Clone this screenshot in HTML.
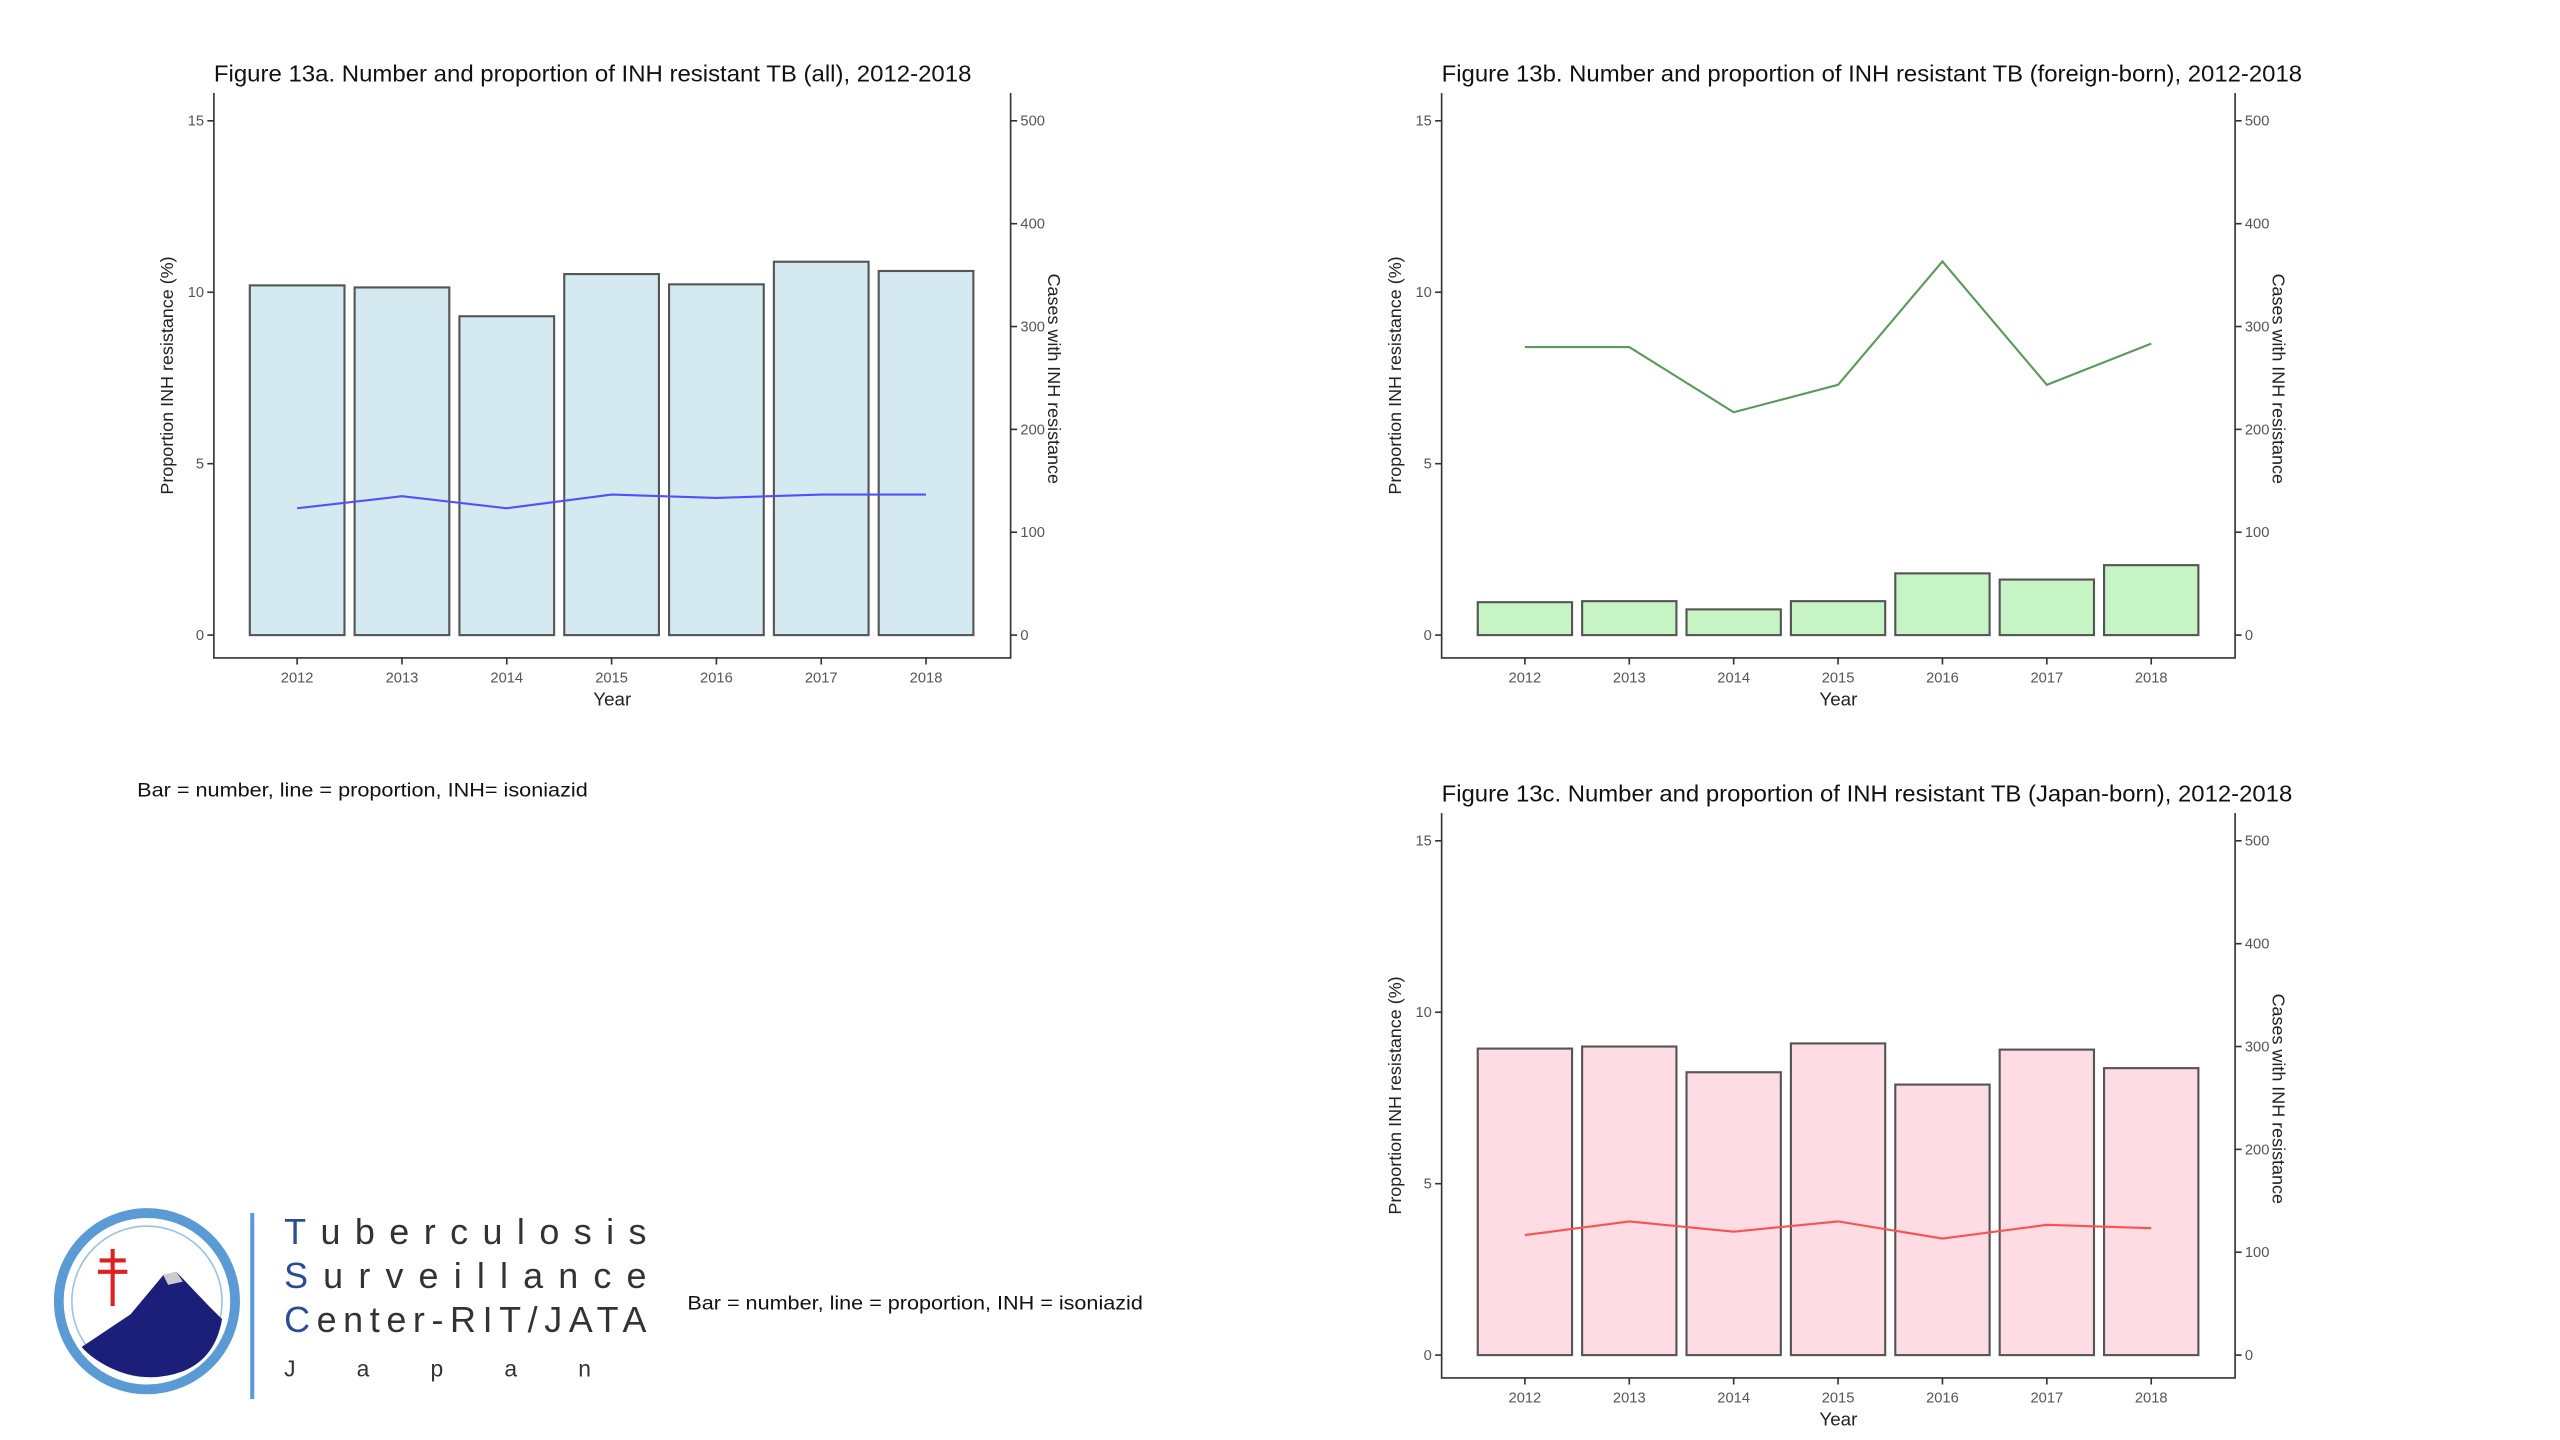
<!DOCTYPE html>
<html><head><meta charset="utf-8">
<style>
html,body{margin:0;padding:0;background:#fff;}
svg{display:block;}
text{font-family:"Liberation Sans",sans-serif;}
</style></head>
<body>
<svg id="root" width="2560" height="1440" viewBox="0 0 1568 882" xmlns="http://www.w3.org/2000/svg">
  <g id="chartA"></g>
  <g id="chartB"></g>
  <g id="chartC"></g>

  <text x="84" y="488" font-size="12" fill="#111" textLength="276" lengthAdjust="spacingAndGlyphs">Bar = number, line = proportion, INH= isoniazid</text>
  <text x="421" y="802" font-size="12" fill="#111" textLength="279" lengthAdjust="spacingAndGlyphs">Bar = number, line = proportion, INH = isoniazid</text>

  <g>
    <circle cx="90" cy="797" r="54" fill="#fff" stroke="#5a9bd5" stroke-width="6"/>
    <circle cx="90" cy="797" r="46" fill="#fff" stroke="#9cc3e6" stroke-width="1"/>
    <path d="M50 825 L80 805 L100 781 L108 779 L128 800 L136 808 Q132 832 112 840 Q90 848 68 838 Q56 832 50 825 Z" fill="#1c1f7a"/>
    <path d="M100 781 L108 779 L112 785 L103 787 Z" fill="#ccc"/>
    <g stroke="#e02020" stroke-width="2.5">
      <line x1="69" y1="765" x2="69" y2="800"/>
      <line x1="61" y1="772" x2="77" y2="772"/>
      <line x1="60" y1="779" x2="78" y2="779"/>
    </g>
    <line x1="154.5" y1="743" x2="154.5" y2="857" stroke="#5a9bd5" stroke-width="2.5"/>
    <text x="174" y="762" font-size="22" textLength="222" lengthAdjust="spacing" fill="#333"><tspan fill="#2a4a9a">T</tspan>uberculosis</text>
    <text x="174" y="789" font-size="22" textLength="222" lengthAdjust="spacing" fill="#333"><tspan fill="#2a4a9a">S</tspan>urveillance</text>
    <text x="174" y="816" font-size="22" textLength="222" lengthAdjust="spacing" fill="#333"><tspan fill="#2a4a9a">C</tspan>enter-RIT/JATA</text>
    <text x="174" y="843" font-size="14" textLength="188" lengthAdjust="spacing" fill="#333">Japan</text>
  </g>
</svg>
<script>
const years = ["2012","2013","2014","2015","2016","2017","2018"];
const leftTicks = [0,5,10,15];
const rightTicks = [0,100,200,300,400,500];
const casesAll = [340,338,310,351,341,363,354];
const propAll = [3.7,4.05,3.7,4.1,4.0,4.1,4.1];
const casesForeign = [32,33,25,33,60,54,68];
const propForeign = [8.4,8.4,6.5,7.3,10.9,7.3,8.5];
const casesJapan = [298,300,275,303,263,297,279];
const propJapan = [3.5,3.9,3.6,3.9,3.4,3.8,3.7];

const NS = "http://www.w3.org/2000/svg";
function mk(tag, attrs, parent){
  const e = document.createElementNS(NS, tag);
  for (const k in attrs) e.setAttribute(k, attrs[k]);
  parent.appendChild(e);
  return e;
}

function drawChart(gid, x0, x1, yTop, title, titleLen, cases, prop, fill, lineColor){
  const g = document.getElementById(gid);
  const yBase = yTop + 332;
  const yBottom = yTop + 346;
  const yL = v => yBase - v * 21;
  const yR = v => yBase - v * 0.63;
  const xC = i => x0 + 51 + i * 64.2 * (x1 - x0) / 488;
  const bw = 58 * (x1 - x0) / 488;

  const t = mk("text", {x: x0, y: yTop - 7, "font-size": 14, fill: "#111", textLength: titleLen, lengthAdjust: "spacingAndGlyphs"}, g);
  t.textContent = title;
  
  

  cases.forEach((v, i) => {
    const r = mk("rect", {x: xC(i) - bw/2, y: yR(v), width: bw, height: yBase - yR(v), fill: fill, stroke: "#555", "stroke-width": 1.3}, g);
    
    
  });
  const pts = prop.map((v, i) => xC(i) + "," + yL(v)).join(" ");
  const pl = mk("polyline", {points: pts, fill: "none", stroke: lineColor, "stroke-width": 1.3}, g);
  
  

  const ax = mk("path", {d: `M${x0} ${yTop} V${yBottom} H${x1} V${yTop}`, fill: "none", stroke: "#333", "stroke-width": 1}, g);
  
  

  leftTicks.forEach(v => {
    mk("line", {x1: x0 - 4, x2: x0, y1: yL(v), y2: yL(v), stroke: "#333"}, g);
    const tl = mk("text", {x: x0 - 6, y: yL(v) + 3, "font-size": 9, fill: "#555", "text-anchor": "end"}, g);
    tl.textContent = v;
    
    
  });
  rightTicks.forEach(v => {
    mk("line", {x1: x1, x2: x1 + 4, y1: yR(v), y2: yR(v), stroke: "#333"}, g);
    const tl = mk("text", {x: x1 + 6, y: yR(v) + 3, "font-size": 9, fill: "#555"}, g);
    tl.textContent = v;
    
    
  });
  years.forEach((y, i) => {
    mk("line", {x1: xC(i), x2: xC(i), y1: yBottom, y2: yBottom + 4, stroke: "#333"}, g);
    const tl = mk("text", {x: xC(i), y: yBottom + 15, "font-size": 9, fill: "#555", "text-anchor": "middle"}, g);
    tl.textContent = y;
    
    
  });
  const xt = mk("text", {x: (x0 + x1) / 2, y: yBottom + 29, "font-size": 11.5, fill: "#222", "text-anchor": "middle"}, g);
  xt.textContent = "Year";
  
  

  const lyC = yTop + 173;
  const ly = mk("text", {x: x0 - 25, y: lyC, "font-size": 11, fill: "#222", "text-anchor": "middle", transform: `rotate(-90 ${x0 - 25} ${lyC})`}, g);
  ly.textContent = "Proportion INH resistance (%)";
  
  

  const ry = mk("text", {x: x1 + 23, y: yTop + 175, "font-size": 11, fill: "#222", "text-anchor": "middle", transform: `rotate(90 ${x1 + 23} ${yTop + 175})`}, g);
  ry.textContent = "Cases with INH resistance";
  
  
}

drawChart("chartA", 131, 619, 57, "Figure 13a. Number and proportion of INH resistant TB (all), 2012-2018", 464, casesAll, propAll, "#d4e9f0", "#5050ff");
drawChart("chartB", 883, 1369, 57, "Figure 13b. Number and proportion of INH resistant TB (foreign-born), 2012-2018", 527, casesForeign, propForeign, "#c6f4c4", "#5a9a5a");
drawChart("chartC", 883, 1369, 498, "Figure 13c. Number and proportion of INH resistant TB (Japan-born), 2012-2018", 521, casesJapan, propJapan, "#fddde3", "#ff5050");
</script>
</body></html>
